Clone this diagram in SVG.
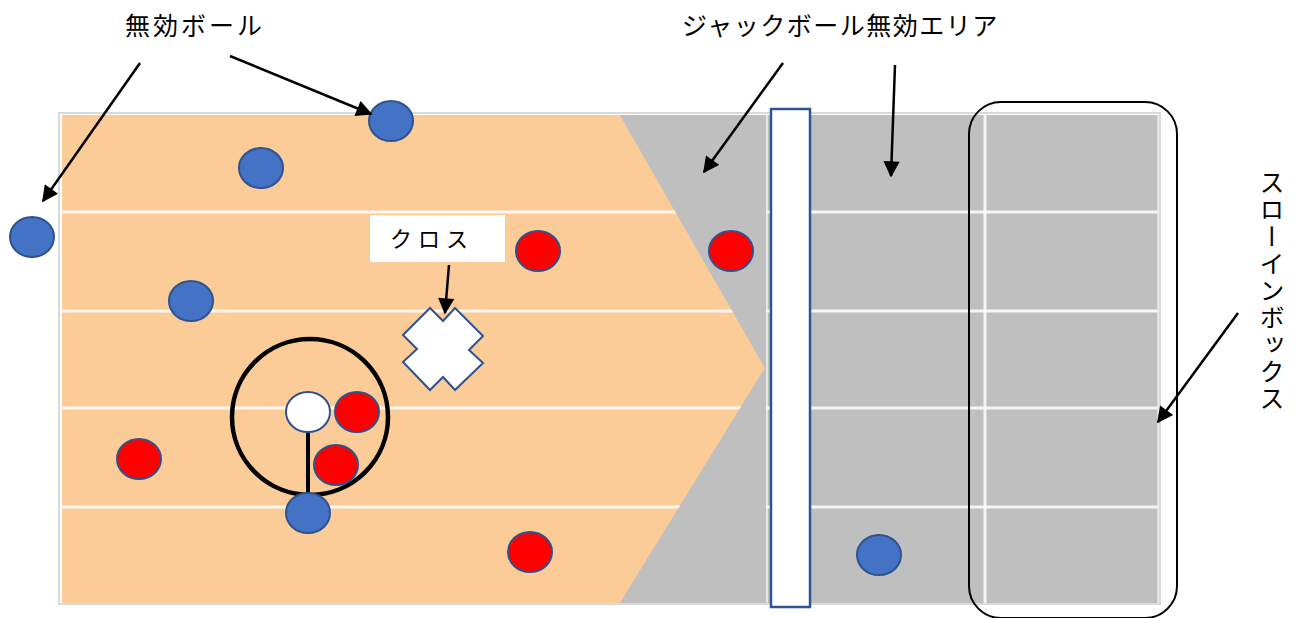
<svg xmlns="http://www.w3.org/2000/svg" width="1299" height="618" viewBox="0 0 1299 618">
<style>
.lbl{font-family:"Noto Sans CJK JP","Noto Sans",sans-serif;font-size:25px;fill:#000;letter-spacing:3px}
.blue{fill:#4472C4;stroke:#2F528F;stroke-width:2}
.red{fill:#FF0000;stroke:#2F528F;stroke-width:2}
.lane{stroke:#FFFFFF;stroke-width:3;opacity:0.85}
.arr{stroke:#000;stroke-width:2.5;fill:none;marker-end:url(#ah)}
</style>
<defs>
<marker id="ah" viewBox="0 0 10 10" refX="9" refY="5" markerWidth="7" markerHeight="6.5" orient="auto" markerUnits="strokeWidth">
<path d="M0,0 L10,5 L0,10 z" fill="#000"/>
</marker>
</defs>
<rect width="1299" height="618" fill="#fff"/>
<g id="court">
<rect x="59" y="113" width="1101" height="491" fill="#fff" stroke="#D9D9D9" stroke-width="2"/>
<rect x="62" y="115" width="1096" height="488" fill="#BFBFBF"/>
<polygon points="62,115 620,115 765,368 620,603 62,603" fill="#FBCB98"/>
<line class="lane" x1="62" y1="212" x2="1158" y2="212"/>
<line class="lane" x1="62" y1="311" x2="1158" y2="311"/>
<line class="lane" x1="62" y1="408" x2="1158" y2="408"/>
<line class="lane" x1="62" y1="507" x2="1158" y2="507"/>
<line class="lane" x1="985" y1="115" x2="985" y2="603"/>
<polygon points="620,115 766,115 766,603 620,603 765,368" fill="#BFBFBF"/>
<line x1="767" y1="115" x2="767" y2="603" stroke="#F2F2F2" stroke-width="1.5"/>
<line x1="1158" y1="115" x2="1158" y2="603" stroke="#E6E6E6" stroke-width="1.5"/>
</g>
<g id="bar"><rect x="771" y="109" width="39" height="498" fill="#fff" stroke="#2F5597" stroke-width="2.5"/></g>
<g id="throw-in-box"><rect x="969" y="102" width="208" height="516" rx="32" ry="32" fill="none" stroke="#000" stroke-width="2"/></g>
<g id="jack-circle">
<circle cx="310" cy="417" r="78" fill="none" stroke="#000" stroke-width="4.5"/>
<line x1="308" y1="430" x2="308" y2="494" stroke="#000" stroke-width="4"/>
</g>
<g id="balls">
<ellipse class="blue" cx="391" cy="121" rx="22" ry="20"/>
<ellipse class="blue" cx="261" cy="168" rx="22" ry="20"/>
<ellipse class="blue" cx="32" cy="237" rx="22" ry="20"/>
<ellipse class="blue" cx="191" cy="301" rx="22" ry="20"/>
<ellipse class="blue" cx="308" cy="513" rx="22" ry="20"/>
<ellipse class="blue" cx="879" cy="555" rx="22" ry="20"/>
<ellipse class="red" cx="538" cy="251" rx="22" ry="20"/>
<ellipse class="red" cx="731" cy="251" rx="22" ry="20"/>
<ellipse class="red" cx="357" cy="412" rx="22" ry="20"/>
<ellipse class="red" cx="336" cy="465" rx="22" ry="20"/>
<ellipse class="red" cx="139" cy="459" rx="22" ry="20"/>
<ellipse class="red" cx="530" cy="552" rx="22" ry="20"/>
<ellipse cx="308" cy="412" rx="22" ry="20" fill="#fff" stroke="#2F528F" stroke-width="2"/>
</g>
<g id="cross">
<polygon points="430,308 443,321 455,308 483,336 469,350 483,363 455,390 443,377 430,390 403,362 417,349 403,335" fill="#fff" stroke="#2F528F" stroke-width="2"/>
</g>
<g id="cross-label">
<rect x="370" y="215" width="135" height="47" fill="#fff"/>
<text class="lbl" x="390" y="247" style="font-size:22px;letter-spacing:6px">クロス</text>
</g>
<g id="labels">
<text class="lbl" x="125" y="35">無効ボール</text>
<text class="lbl" x="682" y="35" style="letter-spacing:1.5px">ジャックボール無効エリア</text>
<text class="lbl" x="1272" y="170" style="writing-mode:vertical-rl;letter-spacing:2px" writing-mode="tb">スローインボックス</text>
</g>
<g id="connectors">
<line class="arr" x1="140" y1="63" x2="43" y2="201"/>
<line class="arr" x1="230" y1="56" x2="371" y2="114"/>
<line class="arr" x1="783" y1="63" x2="704" y2="172"/>
<line class="arr" x1="895" y1="65" x2="891" y2="176"/>
<line class="arr" x1="1238" y1="313" x2="1158" y2="422"/>
<line class="arr" x1="449" y1="265" x2="445" y2="313"/>
</g>
</svg>
